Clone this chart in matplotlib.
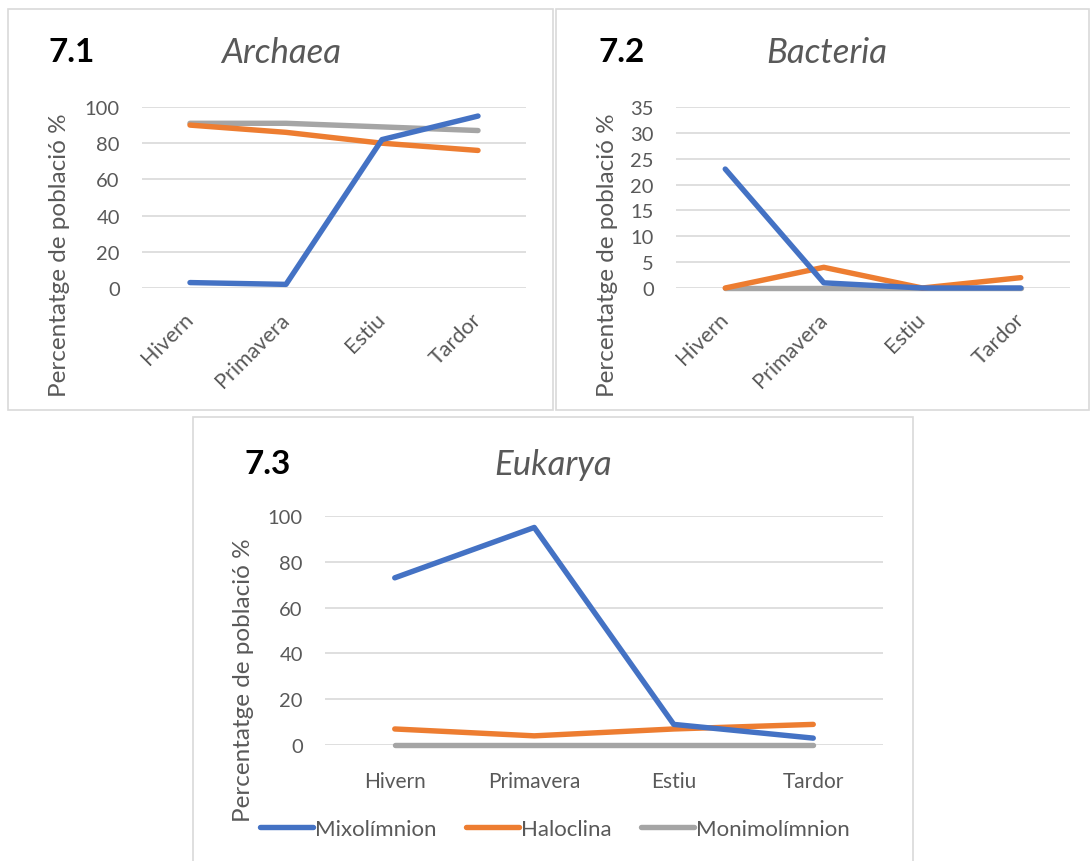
import matplotlib
matplotlib.use("Agg")
import matplotlib.pyplot as plt
from matplotlib.patches import Rectangle
from matplotlib.transforms import ScaledTranslation

# Seasonal population percentages per layer of the lake
seasons = ["Hivern", "Primavera", "Estiu", "Tardor"]
series_names = ["Mixolímnion", "Haloclina", "Monimolímnion"]

archaea_mixo = [3, 2, 82, 95]
archaea_halo = [90, 86, 80, 76]
archaea_moni = [91, 91, 89, 87]

bacteria_mixo = [23, 1, 0, 0]
bacteria_halo = [0, 4, 0, 2]
bacteria_moni = [0, 0, 0, 0]

eukarya_mixo = [73, 95, 9, 3]
eukarya_halo = [7, 4, 7, 9]
eukarya_moni = [0, 0, 0, 0]

colors = ["#4472C4", "#ED7D31", "#A5A5A5"]
text_gray = "#595959"
grid_gray = "#D9D9D9"
LW = 3.9

plt.rcParams["font.family"] = ["Lato", "DejaVu Sans"]

W, H = 1091, 862
fig = plt.figure(figsize=(W / 100, H / 100), dpi=100)
fig.patch.set_facecolor("white")


def px_rect(x0, y0, x1, y1):
    return [x0 / W, 1 - y1 / H, (x1 - x0) / W, (y1 - y0) / H]


def frame(x0, y0, x1, y1):
    fig.patches.append(Rectangle((x0 / W, 1 - y1 / H), (x1 - x0) / W, (y1 - y0) / H,
                                 transform=fig.transFigure, fill=False,
                                 edgecolor=grid_gray, linewidth=1.2))


def panel(rect, data, ymax, ystep, rotated):
    ax = fig.add_axes(px_rect(*rect))
    x = list(range(len(seasons)))
    handles = {}
    # grey first so blue and orange stay on top
    for i in [2, 1, 0]:
        ln, = ax.plot(x, data[i], color=colors[i], linewidth=LW,
                      solid_capstyle="round", clip_on=False, label=series_names[i],
                      zorder=3)
        handles[i] = ln
    ax.set_xlim(-0.5, len(seasons) - 0.5)
    ax.set_ylim(0, ymax)
    ax.set_yticks(range(0, ymax + 1, ystep))
    ax.grid(axis="y", color=grid_gray, linewidth=1.2)
    ax.set_axisbelow(True)
    for s in ax.spines.values():
        s.set_visible(False)
    ax.tick_params(axis="both", length=0, colors=text_gray)
    ax.tick_params(axis="y", pad=16, labelsize=14.5)
    ax.set_xticks(x)
    if rotated:
        ax.set_xticklabels(seasons, rotation=45, ha="right", rotation_mode="anchor")
        ax.tick_params(axis="x", pad=15, labelsize=15.5)
        shift = ScaledTranslation(-7 / 100, 0, fig.dpi_scale_trans)
        for lab in ax.get_xticklabels():
            lab.set_transform(lab.get_transform() + shift)
    else:
        ax.set_xticklabels(seasons)
        ax.tick_params(axis="x", pad=19, labelsize=15)
    return ax, [handles[0], handles[1], handles[2]]


def headings(num, nx, name, cx, y, lx, ly):
    fig.text(nx / W, 1 - y / H, num, fontsize=24, fontweight="bold", color="black",
             va="center", ha="left")
    fig.text(cx / W, 1 - y / H, name, fontsize=25, style="italic", color=text_gray,
             va="center", ha="center")
    fig.text(lx / W, 1 - ly / H, "Percentatge de població %", fontsize=17.5,
             rotation=90, color=text_gray, va="center", ha="center")


# Panel frames
frame(8, 10, 553, 411)
frame(556, 10, 1089, 411)
frame(193, 418, 913, 870)

# 7.1 Archaea
panel((142, 108, 526, 289), [archaea_mixo, archaea_halo, archaea_moni], 100, 20, True)
headings("7.1", 49, "Archaea", 281, 53, 60, 255)

# 7.2 Bacteria
panel((676, 108, 1070, 289), [bacteria_mixo, bacteria_halo, bacteria_moni], 35, 5, True)
headings("7.2", 599, "Bacteria", 827, 53, 607, 255)

# 7.3 Eukarya
ax3, hs = panel((325, 517, 883, 746), [eukarya_mixo, eukarya_halo, eukarya_moni], 100, 20, False)
headings("7.3", 245, "Eukarya", 553, 465, 243, 680)

leg = fig.legend(hs, series_names, loc="center", bbox_to_anchor=(555 / W, 1 - 830 / H),
                 ncol=3, frameon=False, fontsize=16, handlelength=2.4,
                 columnspacing=1.3, handletextpad=0.1, labelcolor=text_gray)
for lh in leg.get_lines():
    lh.set_linewidth(LW)

fig.savefig("out.png", dpi=100, facecolor="white")
